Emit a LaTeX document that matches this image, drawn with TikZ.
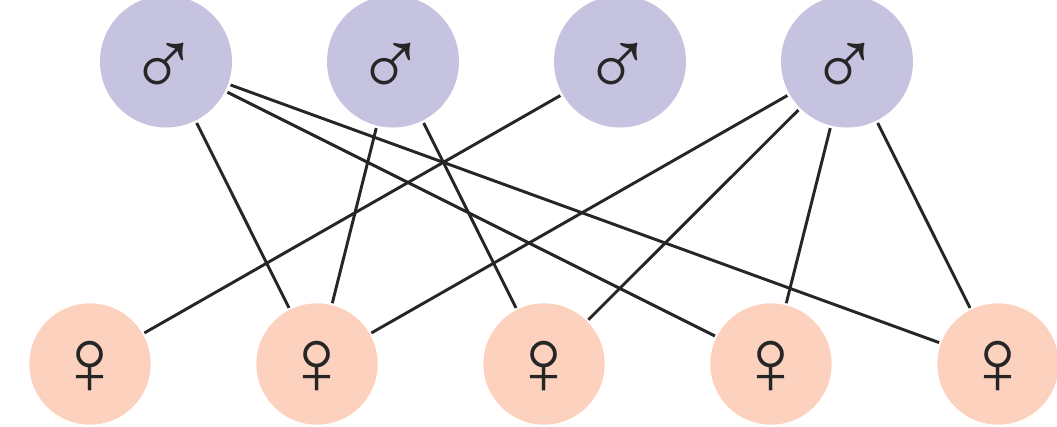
\documentclass[tikz,border=0pt]{standalone}
\usepackage{fontspec}
\usetikzlibrary{positioning}
\newfontfamily\symbolfont{Liberation Sans}
\definecolor{malefill}{HTML}{C6C3E1}
\definecolor{femalefill}{HTML}{FCD2BF}
\definecolor{linkgray}{HTML}{262626}
\newcommand{\signbox}[3]{\makebox[0pt]{\hspace{#1}\smash{\raisebox{#2}{#3}}}}

\begin{document}
\begin{tikzpicture}[
        x=.75pt, y=-.75pt,
        link/.style={line width=2.2pt, draw=linkgray},
        male/.style={circle, fill=malefill, inner sep=0pt, outer sep=2pt, minimum size=99pt,
            font=\symbolfont\fontsize{71}{71}\selectfont, text=linkgray},
        female/.style={circle, fill=femalefill, inner sep=0pt, outer sep=1.5pt, minimum size=91pt,
            font=\symbolfont\fontsize{71}{71}\selectfont, text=linkgray}
    ]
    \useasboundingbox (0,0) rectangle (1057,426);

    % Nodes
    \node (m1)[male] at (166,61.5) {\signbox{-3pt}{-26pt}{♂}};
    \node (m2)[male] at (393,61.5) {\signbox{-3pt}{-26pt}{♂}};
    \node (m3)[male] at (620,61.5) {\signbox{-3pt}{-26pt}{♂}};
    \node (m4)[male] at (847,61.5) {\signbox{-3pt}{-26pt}{♂}};

    \node (f1)[female] at (90,364) {\signbox{0pt}{-22.7pt}{♀}};
    \node (f2)[female] at (317,364) {\signbox{0pt}{-22.7pt}{♀}};
    \node (f3)[female] at (544,364) {\signbox{0pt}{-22.7pt}{♀}};
    \node (f4)[female] at (771,364) {\signbox{0pt}{-22.7pt}{♀}};
    \node (f5)[female] at (998,364) {\signbox{0pt}{-22.7pt}{♀}};

    % Edges
    \draw[link] (m1) -- (f2);
    \draw[link] (m1) -- (f4);
    \draw[link] (m1) -- (f5);
    \draw[link] (m2) -- (f2);
    \draw[link] (m2) -- (f3);
    \draw[link] (m3) -- (f1);
    \draw[link] (m4) -- (f2);
    \draw[link] (m4) -- (f3);
    \draw[link] (m4) -- (f4);
    \draw[link] (m4) -- (f5);

\end{tikzpicture}
\end{document}
